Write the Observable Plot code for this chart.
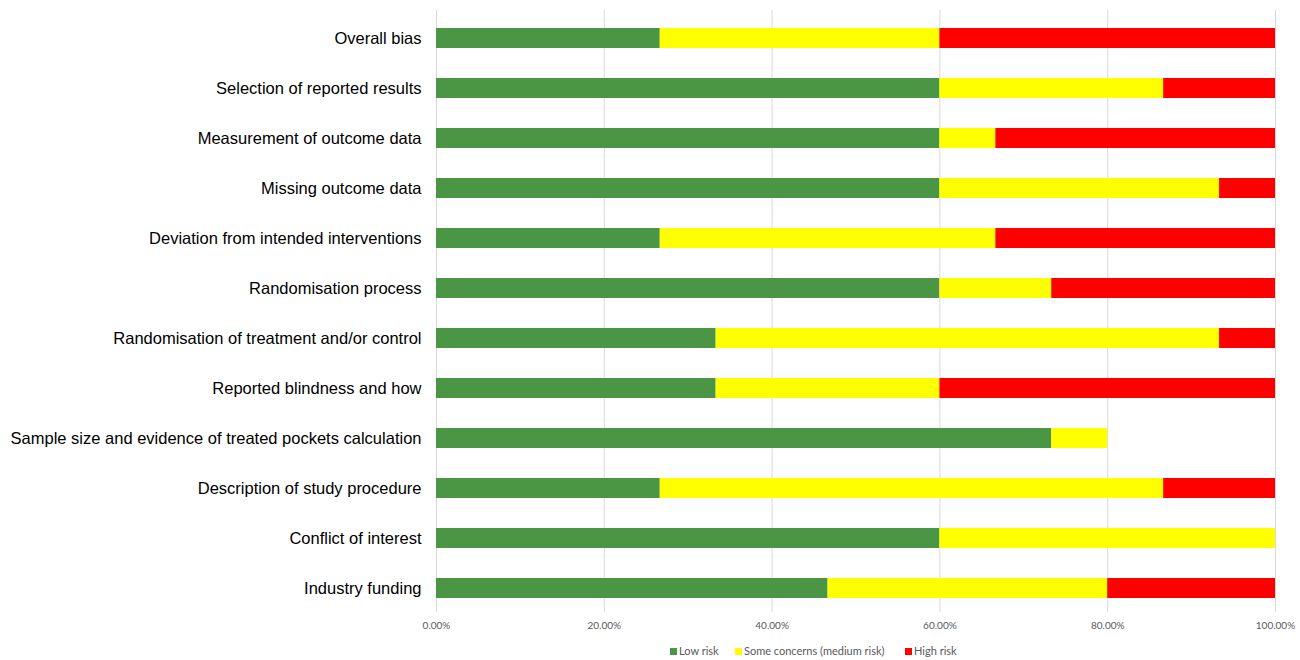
<!DOCTYPE html>
<html>
<head>
<meta charset="utf-8">
<script src="https://cdn.jsdelivr.net/npm/d3@7"></script>
<script src="https://cdn.jsdelivr.net/npm/@observablehq/plot@0.6"></script>
<style>
  body { margin: 0; background: #fff; }
  #wrap { position: relative; width: 1300px; height: 660px; }
  #legend { position: absolute; top: 644px; left: 670px; display: flex; line-height: 14px;
    font-family: Lato, "Open Sans", sans-serif; font-size: 11px; color: #595959; white-space: nowrap; }
  #legend > div:nth-child(1) { width: 65px; }
  #legend > div:nth-child(2) { width: 170px; }
  #legend span.sw { display: inline-block; width: 7px; height: 7px; margin-right: 2px; }
</style>
</head>
<body>
<div id="wrap"><div id="chart"></div><div id="legend"></div></div>
<script>
const categories = [
  "Overall bias",
  "Selection of reported results",
  "Measurement of outcome data",
  "Missing outcome data",
  "Deviation from intended interventions",
  "Randomisation process",
  "Randomisation of treatment and/or control",
  "Reported blindness and how",
  "Sample size and evidence of treated pockets calculation",
  "Description of study procedure",
  "Conflict of interest",
  "Industry funding"
];
const lowRisk      = [0.2667, 0.6000, 0.6000, 0.6000, 0.2667, 0.6000, 0.3333, 0.3333, 0.7333, 0.2667, 0.6000, 0.4667];
const someConcerns = [0.3333, 0.2667, 0.0667, 0.3333, 0.4000, 0.1333, 0.6000, 0.2667, 0.0667, 0.6000, 0.4000, 0.3333];
const highRisk     = [0.4000, 0.1333, 0.3333, 0.0667, 0.3333, 0.2667, 0.0667, 0.4000, 0.0000, 0.1333, 0.0000, 0.2000];
const seriesNames  = ["Low risk", "Some concerns (medium risk)", "High risk"];
const seriesColors = ["#4a9645", "#ffff00", "#ff0000"];
const xTicks = [0, 0.2, 0.4, 0.6, 0.8, 1.0];

const seriesValues = [lowRisk, someConcerns, highRisk];
const data = [];
categories.forEach((c, i) => {
  seriesNames.forEach((s, j) => data.push({category: c, risk: s, value: seriesValues[j][i]}));
});

const chart = Plot.plot({
  width: 1300,
  height: 640,
  marginLeft: 436,
  marginRight: 25,
  marginTop: 10,
  marginBottom: 25,
  style: {fontFamily: "Liberation Sans, Arial, sans-serif", background: "#fff"},
  x: {domain: [0, 1]},
  y: {domain: categories, paddingInner: 0.6, paddingOuter: 0.3},
  color: {domain: seriesNames, range: seriesColors},
  marks: [
    Plot.ruleX(xTicks, {stroke: "#d9d9d9", strokeWidth: 1, insetBottom: 3}),
    Plot.barX(data, {x: "value", y: "category", fill: "risk", order: seriesNames}),
    Plot.axisX(xTicks, {tickSize: 0, tickPadding: 6, tickFormat: d => (d * 100).toFixed(2) + "%",
      fontSize: 10, fill: "#595959", fontFamily: "Lato, 'Open Sans', sans-serif", label: null}),
    Plot.axisY({tickSize: 0, tickPadding: 15, fontSize: 16.5, fill: "#000", label: null})
  ]
});
document.getElementById("chart").appendChild(chart);

const legend = document.getElementById("legend");
seriesNames.forEach((s, j) => {
  const item = document.createElement("div");
  item.innerHTML = `<span class="sw" style="background:${seriesColors[j]}"></span>${s}`;
  legend.appendChild(item);
});
</script>
</body>
</html>
